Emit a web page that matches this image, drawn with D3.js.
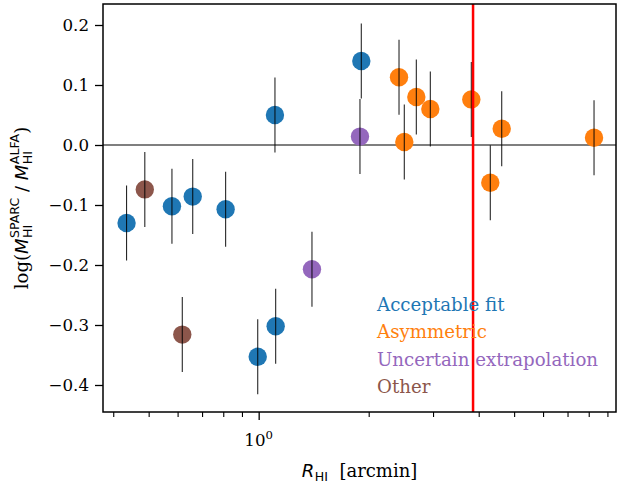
<!DOCTYPE html>
<html><head><meta charset="utf-8">
<script src="https://cdn.jsdelivr.net/npm/d3@7"></script>
<style>body{margin:0;background:#fff}svg{display:block}</style>
</head><body>
<svg id="c" width="617" height="485"></svg>
<script>
// ---- data ----
const acceptableR = [0.435, 0.579, 0.660, 0.812, 1.108, 0.994, 1.113, 1.909];
const acceptableD = [-0.130, -0.102, -0.086, -0.107, 0.050, -0.353, -0.302, 0.140];
const asymmetricR = [2.421, 2.700, 2.949, 2.503, 3.818, 4.624, 4.303, 8.272];
const asymmetricD = [0.113, 0.080, 0.060, 0.005, 0.076, 0.027, -0.063, 0.012];
const uncertainR = [1.399, 1.893];
const uncertainD = [-0.207, 0.014];
const otherR = [0.488, 0.618];
const otherD = [-0.074, -0.316];
const errAll = 0.0625;
const cutR = 3.86;
const yTicks = [-0.4, -0.3, -0.2, -0.1, 0.0, 0.1, 0.2];
const groups = [
  {name: "Acceptable fit", color: "#1f77b4", r: acceptableR, d: acceptableD},
  {name: "Asymmetric", color: "#ff7f0e", r: asymmetricR, d: asymmetricD},
  {name: "Uncertain extrapolation", color: "#9467bd", r: uncertainR, d: uncertainD},
  {name: "Other", color: "#8c564b", r: otherR, d: otherD}
];

const svg = d3.select("#c");
const L = 103, R = 616, T = 4, B = 412;
const x = d3.scaleLog().domain([0.375, 9.50]).range([L, R]);
const y = d3.scaleLinear().domain([-0.445, 0.235]).range([B, T]);
const serif = "DejaVu Serif";
const sans = "DejaVu Sans";

const plot = svg.append("g");
plot.append("defs").append("clipPath").attr("id", "clp")
  .append("rect").attr("x", L).attr("y", T).attr("width", R - L).attr("height", B - T);
const inner = plot.append("g").attr("clip-path", "url(#clp)");

// zero line
inner.append("line").attr("x1", L).attr("x2", R).attr("y1", y(0)).attr("y2", y(0))
  .attr("stroke", "#000").attr("stroke-width", 1.2);

// points
groups.forEach(g => {
  const pts = g.r.map((r, i) => ({r, d: g.d[i]}));
  inner.selectAll(null).data(pts).enter().append("circle")
    .attr("cx", p => x(p.r)).attr("cy", p => y(p.d)).attr("r", 9.2)
    .attr("fill", g.color);
});
groups.forEach(g => {
  const pts = g.r.map((r, i) => ({r, d: g.d[i]}));
  inner.selectAll(null).data(pts).enter().append("line")
    .attr("x1", p => x(p.r)).attr("x2", p => x(p.r))
    .attr("y1", p => y(p.d - errAll)).attr("y2", p => y(p.d + errAll))
    .attr("stroke", "#000").attr("stroke-width", 1.1).attr("stroke-opacity", 0.85);
});

// red line
inner.append("line").attr("x1", x(cutR)).attr("x2", x(cutR)).attr("y1", T).attr("y2", B)
  .attr("stroke", "#ff0000").attr("stroke-width", 2.5);

// legend text
groups.forEach((g, i) => {
  svg.append("text").attr("x", 377).attr("y", 311 + i * 27.3)
    .attr("font-family", serif).attr("font-size", 18.2).attr("fill", g.color).text(g.name);
});

// axes
const yAxis = d3.axisLeft(y).tickValues(yTicks).tickSize(8).tickPadding(6)
  .tickFormat(v => d3.format(".1f")(v).replace("-", "\u2212"));
const ya = svg.append("g").attr("transform", `translate(${L},0)`).call(yAxis);
ya.select(".domain").remove();
ya.selectAll(".tick line").attr("stroke-width", 1.3);
ya.selectAll("text").attr("font-family", serif).attr("font-size", 16.67).attr("fill", "#000");

const minorVals = [0.4,0.5,0.6,0.7,0.8,0.9,2,3,4,5,6,7,8,9];
const xMinor = d3.axisBottom(x).tickValues(minorVals).tickSize(5).tickFormat("");
const xm = svg.append("g").attr("transform", `translate(0,${B})`).call(xMinor);
xm.select(".domain").remove();
xm.selectAll(".tick line").attr("stroke-width", 1.1);
const xMajor = d3.axisBottom(x).tickValues([1]).tickSize(8).tickFormat("");
const xM = svg.append("g").attr("transform", `translate(0,${B})`).call(xMajor);
xM.select(".domain").remove();
xM.selectAll(".tick line").attr("stroke-width", 1.3);
// 10^0 label
const tl = svg.append("text").attr("x", x(1)).attr("y", 446).attr("text-anchor", "middle")
  .attr("font-family", serif).attr("font-size", 16.67).attr("fill", "#000");
tl.append("tspan").text("10");
tl.append("tspan").attr("font-size", 11.7).attr("dy", -7).text("0");

// frame
svg.append("rect").attr("x", L).attr("y", T).attr("width", R - L).attr("height", B - T)
  .attr("fill", "none").attr("stroke", "#000").attr("stroke-width", 1.5);

// math label helper
function mathLabel(parent, parts) {
  const g = parent.append("g");
  let cx = 0;
  parts.forEach(p => {
    if (p.stack) {
      const a = g.append("text").attr("x", cx).attr("y", -p.up).attr("font-family", sans)
        .attr("font-size", p.size).text(p.sup);
      const b = g.append("text").attr("x", cx).attr("y", p.down).attr("font-family", sans)
        .attr("font-size", p.size).text(p.sub);
      cx += Math.max(a.node().getComputedTextLength(), b.node().getComputedTextLength()) + (p.after || 0);
    } else {
      const t = g.append("text").attr("x", cx).attr("y", p.dy || 0)
        .attr("font-family", p.fam).attr("font-size", p.size)
        .attr("font-style", p.italic ? "italic" : "normal")
        .style("white-space", "pre").text(p.t);
      cx += t.node().getComputedTextLength() + (p.after || 0);
    }
  });
  g.selectAll("text").attr("fill", "#000");
  return {g, w: cx};
}

// y label
const yl = svg.append("g");
const ylab = mathLabel(yl, [
  {t: "log(", fam: serif, size: 18},
  {t: "M", fam: sans, size: 18, italic: true, after: 0.5},
  {stack: true, sup: "SPARC", sub: "HI", size: 12.6, up: 9, down: 4},
  {t: " / ", fam: sans, size: 18},
  {t: "M", fam: sans, size: 18, italic: true, after: 0.5},
  {stack: true, sup: "ALFA", sub: "HI", size: 12.6, up: 9, down: 4},
  {t: ")", fam: serif, size: 18}
]);
ylab.g.attr("transform", `translate(${-ylab.w / 2},0)`);
yl.attr("transform", `translate(28,${(T + B) / 2}) rotate(-90)`);

// x label
const xl = svg.append("g");
const xlab = mathLabel(xl, [
  {t: "R", fam: sans, size: 18, italic: true, after: 0.5},
  {t: "HI", fam: sans, size: 12.6, dy: 4},
  {t: "  [arcmin]", fam: serif, size: 18}
]);
xlab.g.attr("transform", `translate(${-xlab.w / 2},0)`);
xl.attr("transform", `translate(${(L + R) / 2},477)`);
</script>
</body></html>
